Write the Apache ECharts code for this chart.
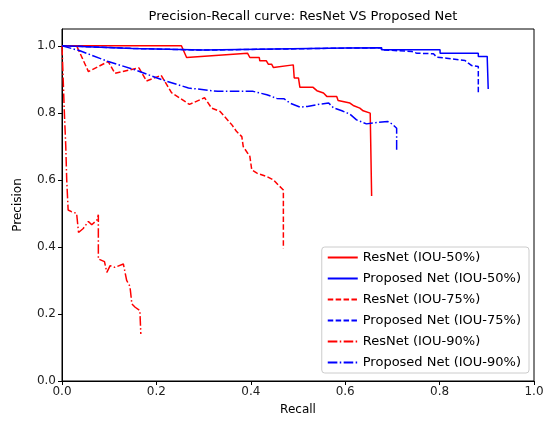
<!DOCTYPE html>
<html>
<head>
<meta charset="utf-8">
<script src="https://cdn.jsdelivr.net/npm/echarts@6/dist/echarts.min.js"></script>
<style>html,body{margin:0;padding:0;background:#fff;}#chart{width:551px;height:422px;}</style>
</head>
<body>
<div id="chart"></div>
<script>
const xTicks = [0, 0.2, 0.4, 0.6, 0.8, 1.0];
const yTicks = [0, 0.2, 0.4, 0.6, 0.8, 1.0];

const resnet50Recall = [0, 0.253, 0.264, 0.393, 0.398, 0.418, 0.419, 0.433, 0.437, 0.444, 0.448, 0.490, 0.492, 0.501, 0.504, 0.532, 0.540, 0.554, 0.561, 0.582, 0.585, 0.610, 0.617, 0.631, 0.638, 0.653, 0.656, 0.656];
const resnet50Precision = [1.0, 1.0, 0.965, 0.978, 0.965, 0.965, 0.955, 0.955, 0.945, 0.945, 0.935, 0.943, 0.904, 0.904, 0.876, 0.876, 0.866, 0.859, 0.849, 0.849, 0.837, 0.829, 0.822, 0.814, 0.806, 0.799, 0.799, 0.552];

const proposed50Recall = [0, 0.15, 0.3, 0.45, 0.6, 0.677, 0.677, 0.801, 0.801, 0.882, 0.882, 0.901, 0.901, 0.903, 0.903];
const proposed50Precision = [1.0, 0.992, 0.987, 0.990, 0.993, 0.994, 0.988, 0.988, 0.978, 0.978, 0.968, 0.968, 0.960, 0.960, 0.871];

const resnet75Recall = [0, 0.031, 0.056, 0.098, 0.112, 0.163, 0.179, 0.210, 0.232, 0.270, 0.302, 0.317, 0.335, 0.360, 0.370, 0.381, 0.384, 0.398, 0.402, 0.413, 0.434, 0.448, 0.458, 0.469, 0.469];
const resnet75Precision = [1.0, 1.0, 0.923, 0.953, 0.918, 0.934, 0.895, 0.912, 0.860, 0.825, 0.845, 0.814, 0.804, 0.764, 0.744, 0.729, 0.699, 0.670, 0.630, 0.620, 0.610, 0.600, 0.585, 0.570, 0.396];

const proposed75Recall = [0, 0.15, 0.3, 0.45, 0.6, 0.677, 0.677, 0.741, 0.751, 0.787, 0.794, 0.815, 0.818, 0.854, 0.861, 0.868, 0.882, 0.882];
const proposed75Precision = [1.0, 0.992, 0.987, 0.990, 0.993, 0.994, 0.988, 0.983, 0.978, 0.976, 0.966, 0.963, 0.958, 0.956, 0.948, 0.941, 0.938, 0.854];

const resnet90Recall = [0, 0.002, 0.005, 0.008, 0.010, 0.013, 0.020, 0.031, 0.035, 0.045, 0.056, 0.063, 0.074, 0.077, 0.077, 0.090, 0.095, 0.102, 0.112, 0.130, 0.137, 0.144, 0.148, 0.155, 0.165, 0.167];
const resnet90Precision = [1.0, 0.92, 0.80, 0.70, 0.60, 0.51, 0.505, 0.50, 0.443, 0.455, 0.476, 0.466, 0.48, 0.496, 0.364, 0.356, 0.324, 0.344, 0.339, 0.349, 0.30, 0.282, 0.23, 0.22, 0.21, 0.14];

const proposed90Recall = [0, 0.038, 0.098, 0.155, 0.211, 0.268, 0.330, 0.405, 0.434, 0.455, 0.470, 0.483, 0.504, 0.520, 0.547, 0.565, 0.575, 0.593, 0.610, 0.624, 0.645, 0.660, 0.690, 0.700, 0.709, 0.709];
const proposed90Precision = [1.0, 0.985, 0.953, 0.928, 0.899, 0.874, 0.864, 0.864, 0.854, 0.843, 0.842, 0.829, 0.817, 0.819, 0.826, 0.829, 0.815, 0.806, 0.796, 0.779, 0.767, 0.770, 0.774, 0.766, 0.754, 0.688];

const seriesNames = ['ResNet (IOU-50%)', 'Proposed Net (IOU-50%)', 'ResNet (IOU-75%)', 'Proposed Net (IOU-75%)', 'ResNet (IOU-90%)', 'Proposed Net (IOU-90%)'];

function pairs(xs, ys) { return xs.map((x, i) => [x, ys[i]]); }

const FONT = 'DejaVu Sans';
const RED = '#ff0000', BLUE = '#0000ff';
const SOLID = 'solid', DASH = [5.5, 2.4], DASHDOT = [9.6, 2.4, 1.5, 2.4];

const defs = [
  [resnet50Recall, resnet50Precision, RED, SOLID],
  [proposed50Recall, proposed50Precision, BLUE, SOLID],
  [resnet75Recall, resnet75Precision, RED, DASH],
  [proposed75Recall, proposed75Precision, BLUE, DASH],
  [resnet90Recall, resnet90Precision, RED, DASHDOT],
  [proposed90Recall, proposed90Precision, BLUE, DASHDOT]
];

const chart = echarts.init(document.getElementById('chart'), null, {renderer: 'canvas'});
chart.setOption({
  animation: false,
  backgroundColor: '#fff',
  textStyle: {fontFamily: FONT},
  title: {
    text: 'Precision-Recall curve: ResNet VS Proposed Net',
    left: 298, top: 5, textAlign: 'center',
    textStyle: {fontFamily: FONT, fontSize: 13, fontWeight: 'normal', color: '#000'}
  },
  grid: {left: 62, right: 17, top: 29, bottom: 41, show: true, borderColor: '#000', borderWidth: 1, backgroundColor: 'transparent'},
  xAxis: {
    type: 'value', min: 0, max: 1, interval: 0.2,
    name: 'Recall', nameLocation: 'middle', nameGap: 23,
    nameTextStyle: {fontFamily: FONT, fontSize: 12, color: '#000'},
    axisLine: {show: true, onZero: false, lineStyle: {color: '#000', width: 1}},
    axisTick: {show: true, length: 4, lineStyle: {color: '#000'}, customValues: xTicks},
    axisLabel: {fontFamily: FONT, fontSize: 12, color: '#222', margin: 5, customValues: xTicks, formatter: v => v.toFixed(1)},
    splitLine: {show: false}
  },
  yAxis: {
    type: 'value', min: 0, max: 1.05,
    name: 'Precision', nameLocation: 'middle', nameGap: 38, nameRotate: 90,
    nameTextStyle: {fontFamily: FONT, fontSize: 12, color: '#000'},
    axisLine: {show: true, onZero: false, lineStyle: {color: '#000', width: 1}},
    axisTick: {show: true, length: 4, lineStyle: {color: '#000'}, customValues: yTicks},
    axisLabel: {fontFamily: FONT, fontSize: 12, color: '#222', margin: 6, customValues: yTicks, formatter: v => v.toFixed(1)},
    splitLine: {show: false}
  },
  legend: {
    orient: 'vertical', right: 22, bottom: 49,
    itemWidth: 30, itemHeight: 12, itemGap: 8,
    padding: [4, 8, 4, 5],
    backgroundColor: 'rgba(255,255,255,0.85)', borderColor: '#ccc', borderWidth: 1, borderRadius: 3,
    itemStyle: {opacity: 0},
    textStyle: {fontFamily: FONT, fontSize: 13, color: '#000'},
    data: seriesNames
  },
  series: defs.map((d, i) => ({
    name: seriesNames[i],
    type: 'line',
    data: pairs(d[0], d[1]),
    symbol: 'none', showSymbol: false,
    lineStyle: {color: d[2], width: 1.5, type: d[3]},
    itemStyle: {color: d[2]},
    emphasis: {disabled: true},
    z: 2
  }))
});
</script>
</body>
</html>
